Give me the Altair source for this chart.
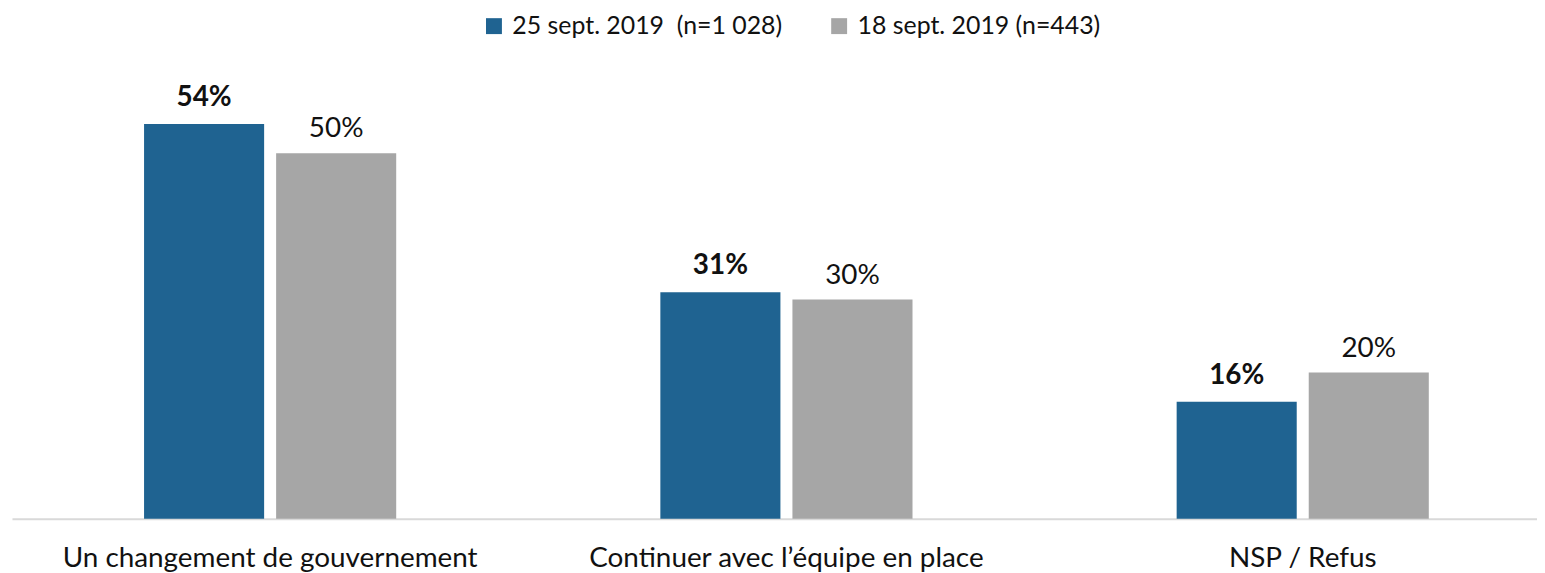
import altair as alt
import pandas as pd

categories = ["Un changement de gouvernement", "Continuer avec l’équipe en place", "NSP / Refus"]
series = ["25 sept. 2019\u00a0 (n=1 028)", "18 sept. 2019 (n=443)"]
vals_sep25 = [54, 31, 16]
vals_sep18 = [50, 30, 20]
colors = ["#1F6391", "#A6A6A6"]

rows = []
for c, a, b in zip(categories, vals_sep25, vals_sep18):
    rows.append({"cat": c, "serie": series[0], "val": a, "lab": f"{a}%"})
    rows.append({"cat": c, "serie": series[1], "val": b, "lab": f"{b}%"})
df = pd.DataFrame(rows)

FONT = "Lato"

x_enc = alt.X(
    "cat:N",
    sort=categories,
    title=None,
    scale=alt.Scale(range=[0, 1557], paddingInner=0, paddingOuter=0),
    axis=alt.Axis(
        labelAngle=0,
        labelFontSize=28,
        labelFont=FONT,
        labelColor="#111111",
        labelPadding=26,
        ticks=False,
        domainColor="#D9D9D9",
        domainWidth=2,
        labelLimit=600,
    ),
)
xo_enc = alt.XOffset(
    "serie:N",
    sort=series,
    scale=alt.Scale(domain=series, paddingInner=0.0909, paddingOuter=1.0),
)
y_enc = alt.Y("val:Q", scale=alt.Scale(domain=[0, 60]), axis=None)

base = alt.Chart(df)

bars = base.mark_bar().encode(
    x=x_enc,
    xOffset=xo_enc,
    y=y_enc,
    color=alt.Color(
        "serie:N",
        sort=series,
        scale=alt.Scale(domain=series, range=colors),
        legend=alt.Legend(
            title=None,
            orient="none",
            legendX=472,
            legendY=-67,
            direction="horizontal",
            symbolType="square",
            symbolSize=256,
            symbolStrokeWidth=0,
            labelFontSize=25,
            labelFont=FONT,
            labelColor="#111111",
            columnPadding=44,
            labelOffset=6,
            labelLimit=400,
        ),
    ),
)

txt_bold = base.transform_filter(alt.datum.serie == series[0]).mark_text(
    font=FONT, fontSize=28, fontWeight="bold", dy=-18, baseline="alphabetic", color="#111111"
).encode(x=x_enc, xOffset=xo_enc, y=y_enc, text="lab:N")

txt_norm = base.transform_filter(alt.datum.serie == series[1]).mark_text(
    font=FONT, fontSize=28, dy=-16, baseline="alphabetic", color="#111111"
).encode(x=x_enc, xOffset=xo_enc, y=y_enc, text="lab:N")

chart = (
    alt.layer(bars, txt_bold, txt_norm)
    .properties(
        width=1533,
        height=441,
        autosize=alt.AutoSizeParams(type="none"),
        padding={"left": 4, "top": 71, "right": 0, "bottom": 53},
    )
    .configure_view(stroke=None)
)

chart.save("out.html", embed_options={"renderer": "svg", "actions": False})
